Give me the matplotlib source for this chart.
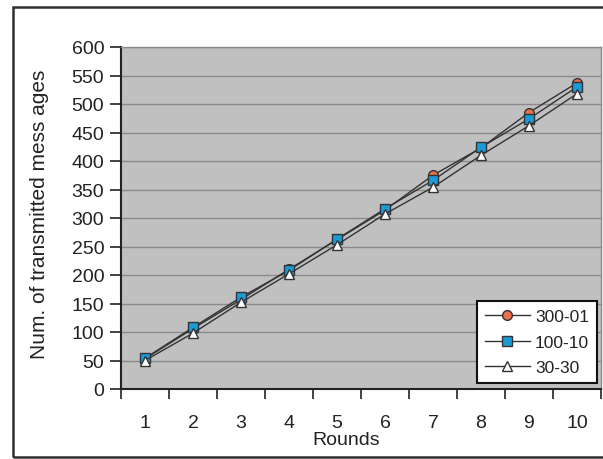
import numpy as np
import matplotlib.pyplot as plt
from matplotlib.patches import Rectangle

plt.rcParams['font.family'] = ['Liberation Sans', 'DejaVu Sans']

rounds = [1, 2, 3, 4, 5, 6, 7, 8, 9, 10]
msgs_300_01 = [53, 106, 157, 210, 262, 314, 375, 423, 485, 537]
msgs_100_10 = [54, 108, 161, 208, 263, 316, 366, 424, 474, 530]
msgs_30_30 = [50, 98, 152, 202, 253, 307, 354, 410, 462, 518]
yticks = list(range(0, 601, 50))

W, H = 603, 460
fig = plt.figure(figsize=(W / 100, H / 100), dpi=100)
ax = fig.add_axes([121 / W, 70 / H, 480 / W, 342 / H])

# outer chart frame (right edge runs off the canvas)
fig.patches.append(Rectangle((13 / W, 2 / H), 1.2, 450 / H, transform=fig.transFigure,
                             fill=False, edgecolor='#303030', linewidth=1.8))

ax.set_facecolor('#c0c0c0')
for y in yticks[1:]:
    ax.axhline(y, color='#8a8a8a', linewidth=1.0, zorder=1)

line_kw = dict(color='#333333', linewidth=1.0, markeredgecolor='#333333',
               markeredgewidth=1.0, markersize=7, zorder=3)
ax.plot(rounds, msgs_300_01, marker='o', markerfacecolor='#e8704a', label='300-01', **line_kw)
ax.plot(rounds, msgs_100_10, marker='s', markerfacecolor='#1a9ad6', label='100-10', **line_kw)
ax.plot(rounds, msgs_30_30, marker='^', markerfacecolor='white', label='30-30', **line_kw)

ax.set_xlim(0.5, 10.5)
ax.set_ylim(0, 600)
ax.set_yticks(yticks)
ax.set_xticks(rounds)
ax.set_xticks(np.arange(0.5, 11, 1), minor=True)
ax.tick_params(axis='x', which='major', length=0, pad=18, labelsize=14, labelcolor='#222222')
ax.tick_params(axis='x', which='minor', length=7, width=1.2, color='#222222')
ax.tick_params(axis='y', length=8, width=1.2, color='#222222', pad=4,
               labelsize=14, labelcolor='#222222')

for side in ['left', 'bottom']:
    ax.spines[side].set_color('#222222')
    ax.spines[side].set_linewidth(1.5)
for side in ['top', 'right']:
    ax.spines[side].set_color('#8a8a8a')
    ax.spines[side].set_linewidth(1.0)

fig.text(40 / W, 1 - 214 / H, 'Num. of transmitted mess ages', fontsize=15, color='#222222',
         rotation=90, ha='center', va='center')
fig.text(346 / W, 1 - 441 / H, 'Rounds', fontsize=14, color='#222222',
         ha='center', va='center')

leg = ax.legend(loc='lower right', bbox_to_anchor=(476 / 480, 6 / 342), fontsize=12.5,
                frameon=True, fancybox=False, framealpha=1, edgecolor='#111111',
                handlelength=2.6, borderpad=0.45, labelspacing=0.6, handletextpad=0.3,
                borderaxespad=0)
leg.get_frame().set_linewidth(1.5)
for t in leg.get_texts():
    t.set_color('#222222')

fig.savefig('out.png', dpi=100)
